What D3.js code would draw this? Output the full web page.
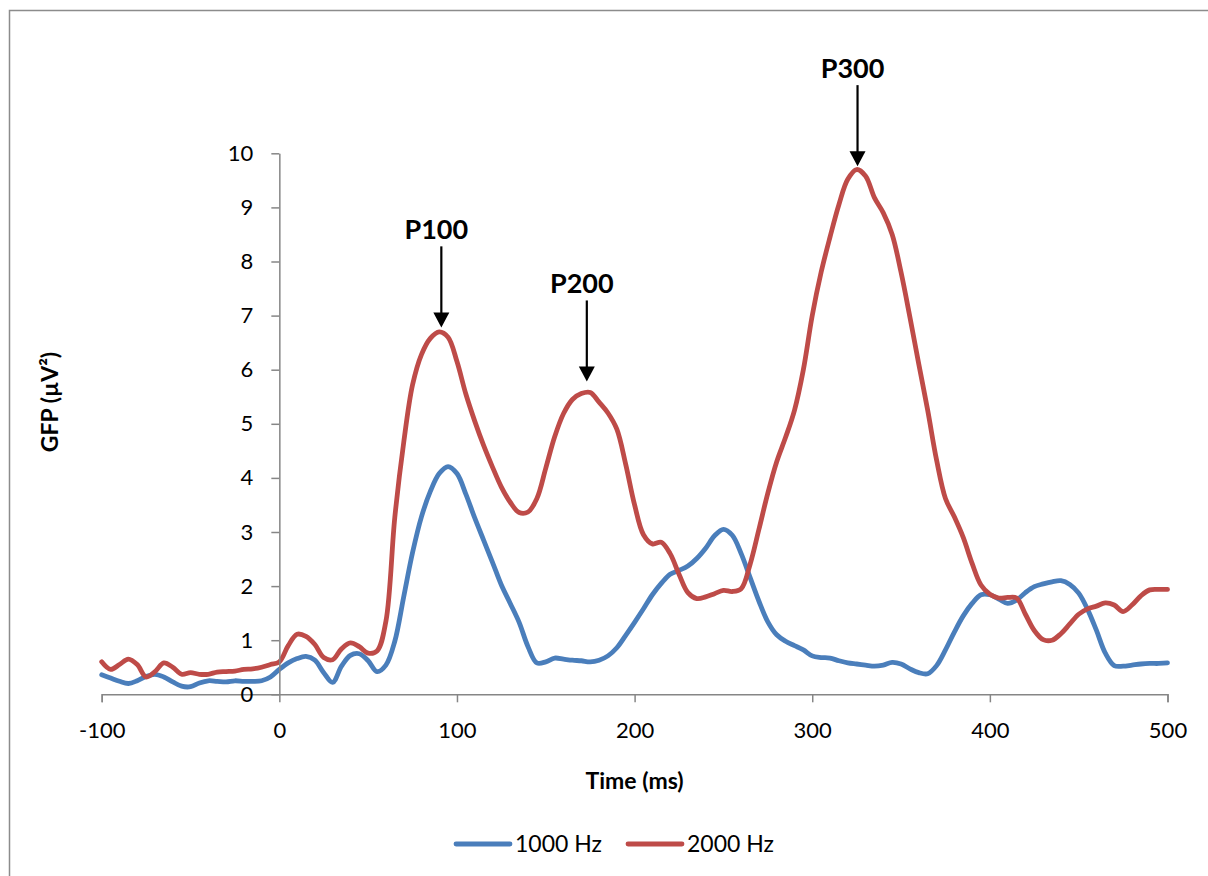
<!DOCTYPE html>
<html>
<head>
<meta charset="utf-8">
<script src="https://cdn.jsdelivr.net/npm/d3@7"></script>
<style>
  body { margin: 0; background: #fff; }
  svg { display: block; font-family: Lato, "DejaVu Sans", sans-serif; }
</style>
</head>
<body>
<svg></svg>
<script>
// time axis, 5 ms steps from -100 to 500
let times = d3.range(-100, 501, 5)

let gfp1000 = [
  0.36, 0.30, 0.24, 0.20, 0.25, 0.33, 0.37, 0.32, 0.23, 0.15,
  0.14, 0.21, 0.25, 0.24, 0.23, 0.25, 0.24, 0.24, 0.25, 0.32,
  0.46, 0.58, 0.66, 0.70, 0.63, 0.40, 0.22, 0.52, 0.72, 0.75,
  0.62, 0.42, 0.54, 0.98, 1.80, 2.62, 3.28, 3.75, 4.08, 4.21,
  4.08, 3.70, 3.26, 2.85, 2.44, 2.02, 1.68, 1.33, 0.88, 0.58,
  0.60, 0.67, 0.65, 0.63, 0.62, 0.60, 0.63, 0.71, 0.86, 1.09,
  1.33, 1.58, 1.84, 2.05, 2.22, 2.29, 2.37, 2.51, 2.70, 2.93,
  3.05, 2.94, 2.60, 2.16, 1.72, 1.34, 1.10, 0.98, 0.90, 0.82,
  0.71, 0.68, 0.67, 0.62, 0.58, 0.56, 0.54, 0.52, 0.54, 0.59,
  0.56, 0.47, 0.40, 0.38, 0.53, 0.82, 1.15, 1.45, 1.68, 1.84,
  1.84, 1.76, 1.68, 1.74, 1.88, 1.99, 2.04, 2.08, 2.10, 2.03,
  1.87, 1.57, 1.18, 0.76, 0.53, 0.52, 0.54, 0.56, 0.57, 0.57,
  0.58
]

let gfp2000 = [
  0.60, 0.46, 0.55, 0.65, 0.55, 0.32, 0.42, 0.58, 0.50, 0.37,
  0.40, 0.37, 0.37, 0.41, 0.42, 0.43, 0.46, 0.47, 0.50, 0.55,
  0.60, 0.90, 1.11, 1.07, 0.92, 0.68, 0.64, 0.84, 0.95, 0.88,
  0.76, 0.80, 1.35, 3.27, 4.65, 5.72, 6.28, 6.58, 6.70, 6.60,
  6.15, 5.55, 5.05, 4.60, 4.20, 3.83, 3.55, 3.36, 3.37, 3.62,
  4.18, 4.76, 5.19, 5.45, 5.56, 5.58, 5.40, 5.20, 4.90, 4.25,
  3.50, 2.95, 2.78, 2.81, 2.60, 2.22, 1.88, 1.77, 1.80, 1.86,
  1.92, 1.90, 1.95, 2.40, 3.05, 3.72, 4.30, 4.75, 5.25, 6.00,
  7.00, 7.80, 8.45, 9.05, 9.52, 9.70, 9.58, 9.18, 8.90, 8.50,
  7.80, 6.97, 6.10, 5.25, 4.33, 3.62, 3.28, 2.90, 2.42, 2.02,
  1.85, 1.78, 1.79, 1.78, 1.48, 1.18, 1.01, 1.00, 1.12, 1.30,
  1.48, 1.58, 1.63, 1.69, 1.65, 1.53, 1.65, 1.82, 1.93, 1.94,
  1.94
]

let seriesNames = ['1000 Hz', '2000 Hz']
let seriesColors = ['#4a7ebb', '#be4b48']

let xTicks = [-100, 0, 100, 200, 300, 400, 500]
let yTicks = [0, 1, 2, 3, 4, 5, 6, 7, 8, 9, 10]

// peak labels: time of arrow, value at arrow tip
let peakLabels = ['P100', 'P200', 'P300']
let peakTimes = [91.2, 173.1, 325.5]
let peakTips = [6.78, 5.78, 9.76]

let width = 1208
let height = 876

let svg = d3.select('svg')
let xScale
let yScale

const drawCanvas = () => {
    svg.attr('width', width)
       .attr('height', height)

    svg.append('rect')
       .attr('x', 9.5)
       .attr('y', 10.5)
       .attr('width', 1210)
       .attr('height', 880)
       .attr('fill', 'none')
       .attr('stroke', '#8c8c8c')
       .attr('stroke-width', 1.5)
}

const generateScales = () => {
    xScale = d3.scaleLinear()
               .domain([-100, 500])
               .range([101.7, 1167.5])

    yScale = d3.scaleLinear()
               .domain([0, 10])
               .range([694.3, 153.3])
}

const generateAxes = () => {
    let xAxis = d3.axisBottom(xScale)
                  .tickValues(xTicks)
                  .tickSize(8)
                  .tickSizeOuter(8)
                  .tickFormat((d) => String(d))   // plain hyphen, as in the original

    let yAxis = d3.axisLeft(yScale)
                  .tickValues(yTicks)
                  .tickSize(8)
                  .tickSizeOuter(0)
                  .tickPadding(18)

    let gx = svg.append('g')
                .attr('transform', `translate(0, ${yScale(0)})`)
                .call(xAxis)
    gx.selectAll('text')
      .attr('y', 36)
      .attr('dy', '0.36em')

    let gy = svg.append('g')
                .attr('transform', `translate(${xScale(0)}, 0)`)
                .call(yAxis)

    svg.selectAll('.domain, .tick line')
       .attr('stroke', '#868686')
       .attr('stroke-width', 1.5)
    svg.selectAll('.tick text')
       .attr('fill', '#000')
       .attr('font-size', 22)
       .attr('font-family', 'Lato, sans-serif')

    svg.append('text')
       .attr('x', (xScale.range()[0] + xScale.range()[1]) / 2)
       .attr('y', 781)
       .attr('dy', '0.36em')
       .attr('text-anchor', 'middle')
       .attr('font-size', 23)
       .attr('font-weight', 'bold')
       .text('Time (ms)')

    svg.append('text')
       .attr('transform', 'translate(50, 402) rotate(-90)')
       .attr('text-anchor', 'middle')
       .attr('dy', '0.36em')
       .attr('font-size', 23)
       .attr('font-weight', 'bold')
       .text('GFP (µV²)')
}

const drawLines = () => {
    let line = d3.line()
                 .x((d, i) => xScale(times[i]))
                 .y((d) => yScale(d))
                 .curve(d3.curveCatmullRom.alpha(0.5))

    let allSeries = [gfp1000, gfp2000]
    svg.selectAll('.series')
       .data(allSeries)
       .enter()
       .append('path')
       .attr('class', 'series')
       .attr('d', (d) => line(d))
       .attr('fill', 'none')
       .attr('stroke', (d, i) => seriesColors[i])
       .attr('stroke-width', 4.8)
       .attr('stroke-linejoin', 'round')
       .attr('stroke-linecap', 'round')
}

const drawPeaks = () => {
    peakLabels.forEach((label, i) => {
        let x = xScale(peakTimes[i])
        let tip = yScale(peakTips[i])
        let tail = yScale(peakTips[i] + 1.5)

        svg.append('line')
           .attr('x1', x).attr('x2', x)
           .attr('y1', tail).attr('y2', tip - 12)
           .attr('stroke', '#000')
           .attr('stroke-width', 2.2)

        svg.append('path')
           .attr('d', `M${x - 8},${tip - 15} L${x + 8},${tip - 15} L${x},${tip} Z`)
           .attr('fill', '#000')

        svg.append('text')
           .attr('x', x - 5)
           .attr('y', tail - 7)
           .attr('text-anchor', 'middle')
           .attr('font-size', 27)
           .attr('font-weight', 'bold')
           .text(label)
    })
}

const drawLegend = () => {
    let legendX = [456, 628]
    let legend = svg.selectAll('.legend')
                    .data(seriesNames)
                    .enter()
                    .append('g')
                    .attr('class', 'legend')
                    .attr('transform', (d, i) => `translate(${legendX[i]}, 844)`)

    legend.append('line')
          .attr('x1', 0).attr('x2', 54)
          .attr('stroke', (d, i) => seriesColors[i])
          .attr('stroke-width', 4.8)
          .attr('stroke-linecap', 'round')

    legend.append('text')
          .attr('x', 59)
          .attr('dy', '0.36em')
          .attr('font-size', 23)
          .text((d) => d)
}

drawCanvas()
generateScales()
drawLines()
generateAxes()
drawPeaks()
drawLegend()
</script>
</body>
</html>
